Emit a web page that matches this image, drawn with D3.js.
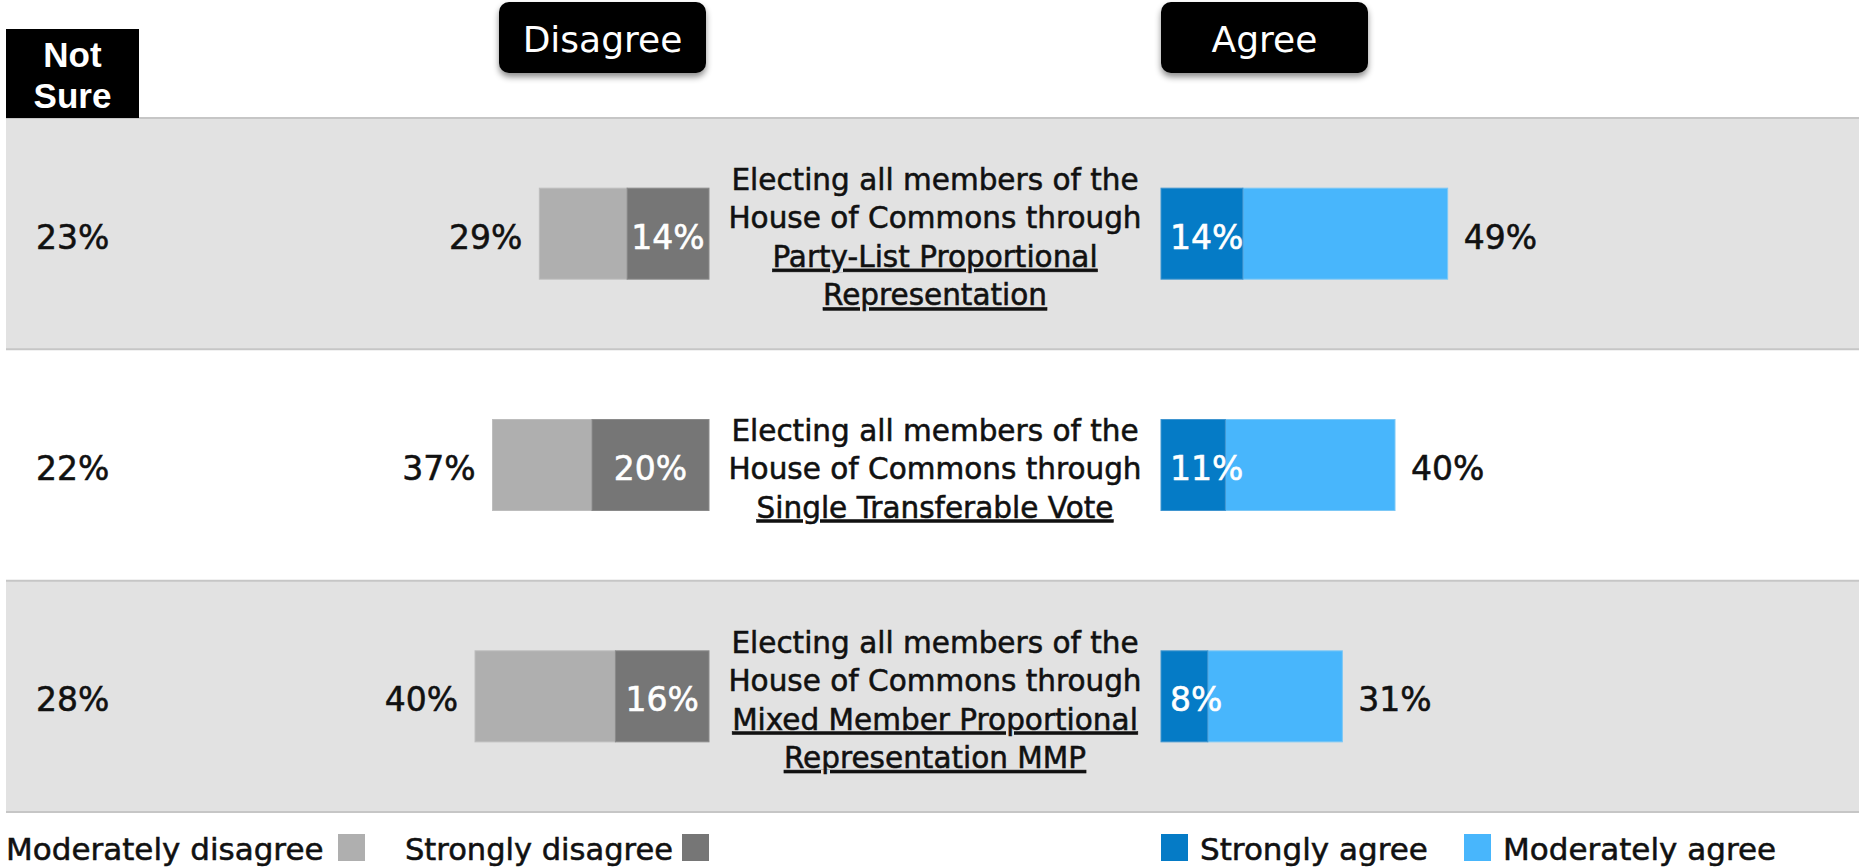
<!DOCTYPE html>
<html>
<head>
<meta charset="utf-8">
<script src="https://cdn.jsdelivr.net/npm/d3@7"></script>
<style>
  html, body { margin: 0; padding: 0; background: #fff; }
  svg { display: block; }
</style>
</head>
<body>
<svg id="chart" width="1859" height="868"></svg>
<script>
// ---------- DATA ----------
const rows = ["Party-List PR", "Single Transferable Vote", "Mixed Member PR"];
const introLines = ["Electing all members of the", "House of Commons through"];
const methodLines = [
  ["Party-List Proportional", "Representation"],
  ["Single Transferable Vote"],
  ["Mixed Member Proportional", "Representation MMP"]
];
const notSure = [23, 22, 28];
const stronglyDisagree = [14, 20, 16];
const moderatelyDisagree = [15, 17, 24];
const stronglyAgree = [14, 11, 8];
const moderatelyAgree = [35, 29, 23];
const headers = ["Disagree", "Agree"];
const notSureTitle = ["Not", "Sure"];
const legendLeft = ["Moderately disagree", "Strongly disagree"];
const legendRight = ["Strongly agree", "Moderately agree"];

// ---------- STYLE ----------
const C = {
  band: "#e2e2e2", bandLine: "#c6c6c6",
  modDis: "#afafaf", strDis: "#767676",
  strAgr: "#057bc6", modAgr: "#48b6fc",
  text: "#111"
};
const FONT = "'DejaVu Sans', sans-serif";
const heavy = sel => sel.attr("stroke", "currentColor").attr("stroke-width", 0.55);

const svg = d3.select("#chart");
const defs = svg.append("defs");
const f = defs.append("filter").attr("id", "shadow").attr("x", "-20%").attr("y", "-20%").attr("width", "140%").attr("height", "160%");
f.append("feDropShadow").attr("dx", 0).attr("dy", 4).attr("stdDeviation", 3).attr("flood-color", "#000").attr("flood-opacity", 0.45);

// ---------- SCALES ----------
const y = d3.scaleBand().domain(rows).range([118, 812]).padding(0);
const barH = 91;
const xL = d3.scaleLinear().domain([0, 100]).range([709, 709 - 585]);
const xR = d3.scaleLinear().domain([0, 100]).range([1161, 1161 + 585]);

// ---------- BANDS ----------
rows.forEach((r, i) => {
  if (i % 2 === 0) {
    svg.append("rect").attr("x", 6).attr("y", y(r)).attr("width", 1859 - 6).attr("height", y.bandwidth())
      .attr("fill", C.band);
  }
});
[0, 1, 2, 3].forEach(k => {
  const yy = 118 + k * y.bandwidth();
  svg.append("line").attr("x1", 6).attr("x2", 1859).attr("y1", yy).attr("y2", yy)
    .attr("stroke", C.bandLine).attr("stroke-width", 2);
});

// ---------- HEADERS ----------
const hdr = [
  { label: headers[0], x0: 499, x1: 706 },
  { label: headers[1], x0: 1161, x1: 1368 }
];
hdr.forEach(h => {
  svg.append("rect").attr("x", h.x0).attr("y", 2).attr("width", h.x1 - h.x0).attr("height", 71)
    .attr("rx", 10).attr("fill", "#000").attr("filter", "url(#shadow)");
  svg.append("text").attr("x", (h.x0 + h.x1) / 2).attr("y", 52).attr("text-anchor", "middle")
    .attr("font-family", FONT).attr("font-size", 36).attr("fill", "#fff").text(h.label);
});
svg.append("rect").attr("x", 6).attr("y", 29).attr("width", 133).attr("height", 89).attr("fill", "#000");
notSureTitle.forEach((t, i) => {
  svg.append("text").attr("x", 72.5).attr("y", 67 + i * 41).attr("text-anchor", "middle")
    .attr("font-family", "'Liberation Sans', Arial, sans-serif").attr("font-weight", "bold")
    .attr("font-size", 35).attr("fill", "#fff").text(t);
});

// ---------- BARS ----------
const g = svg.append("g");
rows.forEach((r, i) => {
  const cy = y(r) + y.bandwidth() / 2;
  const top = cy - barH / 2;
  const dTot = stronglyDisagree[i] + moderatelyDisagree[i];
  const aTot = stronglyAgree[i] + moderatelyAgree[i];

  // disagree stack (strong nearest centre)
  g.append("rect").attr("x", xL(dTot)).attr("y", top).attr("width", xL(stronglyDisagree[i]) - xL(dTot)).attr("height", barH)
    .attr("fill", C.modDis).attr("stroke", "#bdbdbd").attr("stroke-width", 1);
  g.append("rect").attr("x", xL(stronglyDisagree[i])).attr("y", top).attr("width", xL(0) - xL(stronglyDisagree[i])).attr("height", barH)
    .attr("fill", C.strDis).attr("stroke", "#8a8a8a").attr("stroke-width", 1);
  // agree stack
  g.append("rect").attr("x", xR(stronglyAgree[i])).attr("y", top).attr("width", xR(aTot) - xR(stronglyAgree[i])).attr("height", barH)
    .attr("fill", C.modAgr).attr("stroke", "#7cc8f6").attr("stroke-width", 1);
  g.append("rect").attr("x", xR(0)).attr("y", top).attr("width", xR(stronglyAgree[i]) - xR(0)).attr("height", barH)
    .attr("fill", C.strAgr).attr("stroke", "#3f95d0").attr("stroke-width", 1);

  const pct = v => v + "%";
  const base = cy + 15;
  const lbl = (x, anchor, color, txt) => g.append("text").attr("x", x).attr("y", base).attr("text-anchor", anchor)
    .attr("font-family", FONT).attr("font-size", 33).attr("fill", color).style("color", color)
    .call(heavy).text(txt);
  lbl(36, "start", C.text, pct(notSure[i]));
  lbl(xL(dTot) - 17, "end", C.text, pct(dTot));
  lbl(xL(stronglyDisagree[i] / 2), "middle", "#fff", pct(stronglyDisagree[i]));
  lbl(xR(0) + 9, "start", "#fff", pct(stronglyAgree[i]));
  lbl(xR(aTot) + 16, "start", C.text, pct(aTot));

  // question text
  const lines = introLines.map(t => ({ t, u: false })).concat(methodLines[i].map(t => ({ t, u: true })));
  const n = lines.length, lh = 38.5;
  const qx = (xL(0) + xR(0)) / 2;
  lines.forEach((ln, k) => {
    const t = g.append("text").attr("x", qx).attr("y", cy + (k - (n - 1) / 2) * lh + 14)
      .attr("text-anchor", "middle").attr("font-family", FONT).attr("font-size", 29.5)
      .attr("fill", C.text).style("color", C.text).call(heavy).text(ln.t);
    if (ln.u) t.attr("text-decoration", "underline");
  });
});

// ---------- LEGEND ----------
const lgY = 860, sw = 27;
const lg = svg.append("g").attr("font-family", FONT).attr("font-size", 31).attr("fill", C.text)
  .style("color", C.text).attr("stroke", "currentColor").attr("stroke-width", 0.55);
lg.append("text").attr("x", 6).attr("y", lgY).text(legendLeft[0]);
lg.append("rect").attr("x", 338).attr("y", lgY - 26).attr("width", sw).attr("height", sw).attr("fill", C.modDis).attr("stroke", "none");
lg.append("text").attr("x", 405).attr("y", lgY).attr("font-size", 30.5).text(legendLeft[1]);
lg.append("rect").attr("x", 682).attr("y", lgY - 26).attr("width", sw).attr("height", sw).attr("fill", C.strDis).attr("stroke", "none");
lg.append("rect").attr("x", 1161).attr("y", lgY - 26).attr("width", sw).attr("height", sw).attr("fill", C.strAgr).attr("stroke", "none");
lg.append("text").attr("x", 1200).attr("y", lgY).text(legendRight[0]);
lg.append("rect").attr("x", 1464).attr("y", lgY - 26).attr("width", sw).attr("height", sw).attr("fill", C.modAgr).attr("stroke", "none");
lg.append("text").attr("x", 1503).attr("y", lgY).text(legendRight[1]);
</script>
</body>
</html>
